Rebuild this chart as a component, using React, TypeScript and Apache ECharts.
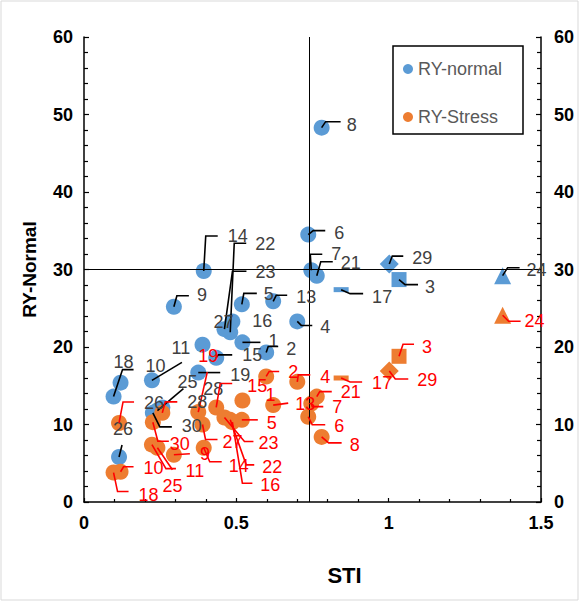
import React, { useEffect, useRef } from 'react';
import * as echarts from 'echarts';

// Genotypes (shared STI per genotype)
const genotypes = ['1','2','3','4','5','6','7','8','9','10','11','13','14','15','16','17','18','19','21','22','23','24','25','26','27','28','29','30'];
const sti = [0.520,0.598,1.034,0.700,0.518,0.736,0.746,0.780,0.295,0.120,0.223,0.621,0.393,0.434,0.487,0.844,0.097,0.375,0.764,0.480,0.461,1.374,0.241,0.115,0.389,0.257,1.002,0.226];
const ryNormal = [20.6,19.3,28.7,23.3,25.5,34.5,29.9,48.3,25.2,15.4,15.7,25.9,29.8,18.6,23.3,27.4,13.6,16.7,29.2,21.9,22.3,29.2,11.8,5.8,20.3,12.2,30.7,11.5];
const ryStress = [13.1,16.2,18.8,15.5,10.6,11.0,12.7,8.4,6.1,3.9,7.4,12.5,7.0,12.2,10.3,16.0,3.8,11.6,13.6,10.6,10.9,24.1,7.0,10.2,10.0,11.5,16.9,10.3];

const seriesNames = ['RY-normal', 'RY-Stress'];
const meanSTI = 0.743;
const refRY = 30;

// marker shapes per genotype (style)
const shapeOf: Record<string, { symbol: string; size: any }> = {
  '3': { symbol: 'rect', size: 15 },
  '29': { symbol: 'diamond', size: 19 },
  '24': { symbol: 'triangle', size: 17 },
  '17': { symbol: 'rect', size: [15, 5] },
};

// label placement (pixel offsets from marker) and leader elbows (style)
type Lab = { t: [number, number]; l?: number[][]; c?: string };
const labNormal: Record<string, Lab> = {
  '1': { t: [31, -1], l: [[18, 0]] },
  '2': { t: [25, -3], l: [[2, -6], [12, -6]] },
  '3': { t: [31, 7], l: [[6, 5], [19, 5]] },
  '4': { t: [28, 6], l: [[4, 4], [15, 4]] },
  '5': { t: [27, -10], l: [[2, -11], [15, -11]] },
  '6': { t: [31, -2], l: [[5, -4], [17, -4]] },
  '7': { t: [25, -16], l: [[-1, -16], [11, -16]] },
  '8': { t: [30, -3], l: [[4, -6], [19, -6]] },
  '9': { t: [28, -12], l: [[3, -11], [15, -11]] },
  '10': { t: [35, -17] },
  '11': { t: [29, -32], l: [[30, -18]] },
  '13': { t: [33, -4], l: [[3, -6], [14, -6]] },
  '14': { t: [34, -35], l: [[2, -35], [14, -35]] },
  '15': { t: [36, -3], l: [[2, -3], [16, -3]] },
  '16': { t: [30, 0] },
  '17': { t: [41, 7], l: [[9, 4], [22, 4]] },
  '18': { t: [10, -35], l: [[9, -27], [20, -27]] },
  '19': { t: [42, 2], l: [[2, 0], [22, 0]] },
  '21': { t: [34, -13], l: [[4, -14], [16, -14]] },
  '22': { t: [35, -88], l: [[4, -89], [16, -89]] },
  '23': { t: [41, -57], l: [[8, -58], [22, -58]] },
  '24': { t: [34, -6], l: [[5, -8], [17, -8]] },
  '25': { t: [30, -29], l: [[26, -22]] },
  '26': { t: [4, -28], l: [[3, -12]] },
  '27': { t: [21, -23] },
  '28': { t: [51, -18] },
  '29': { t: [33, -6], l: [[3, -8], [14, -8]] },
  '30': { t: [39, 13], l: [[7, 14], [19, 14]] },
};
const labStress: Record<string, Lab> = {
  '1': { t: [28, -5] },
  '2': { t: [27, -4], l: [[3, -5], [13, -5]] },
  '3': { t: [28, -9], l: [[4, -12], [15, -12]] },
  '4': { t: [28, -5], l: [[1, -7], [13, -7]] },
  '5': { t: [30, 3], l: [[16, 0]] },
  '6': { t: [31, 9], l: [[4, 8], [17, 8]] },
  '7': { t: [26, 3], l: [[1, 3], [12, 3]] },
  '8': { t: [33, 8], l: [[7, 6], [20, 6]] },
  '9': { t: [31, -1], l: [[16, -1]] },
  '10': { t: [33, -4], l: [[3, -5], [13, -5]] },
  '11': { t: [43, 26], l: [[14, 24], [24, 24]] },
  '13': { t: [32, -1], l: [[15, -2]] },
  '14': { t: [35, 18], l: [[6, 14], [18, 14]] },
  '15': { t: [41, -21], l: [[4, -24], [16, -24]] },
  '16': { t: [38, 63], l: [[10, 61], [20, 61]] },
  '17': { t: [41, 5], l: [[9, 4], [21, 4]] },
  '18': { t: [35, 22], l: [[4, 19], [15, 19]] },
  '19': { t: [10, -56], l: [[9, -40]] },
  '21': { t: [34, -5], l: [[3, -5], [15, -5]] },
  '22': { t: [42, 47], l: [[16, 45], [24, 45]] },
  '23': { t: [44, 25], l: [[20, 24], [29, 24]] },
  '24': { t: [32, 6], l: [[6, 6], [18, 6]] },
  '25': { t: [15, 38], l: [[15, 22]] },
  '26': { t: [35, -20], l: [[4, -21], [15, -21]], c: '#404040' },
  '27': { t: [30, 17], l: [[3, 15], [15, 15]] },
  '28': { t: [35, -11], l: [[3, -11], [15, -11]], c: '#404040' },
  '29': { t: [38, 9], l: [[6, 8], [19, 8]] },
  '30': { t: [27, 22], l: [[5, 19], [16, 19]] },
};

const BLUE = '#5B9BD5';
const ORANGE = '#ED7D31';
const FONT = '"Liberation Sans", Arial, sans-serif';

function scatterData(ry: number[]) {
  return genotypes.map((g, i) => {
    const s = shapeOf[g];
    return {
      name: g,
      value: [sti[i], ry[i]],
      symbol: s ? s.symbol : 'circle',
      symbolSize: s ? s.size : 16,
    };
  });
}

function labelSeries(ry: number[], labs: Record<string, Lab>, textColor: string, lineColor: string) {
  return {
    type: 'custom',
    coordinateSystem: 'cartesian2d',
    silent: true,
    clip: false,
    z: 10,
    data: genotypes.map((g, i) => [sti[i], ry[i]]),
    encode: { x: 0, y: 1 },
    renderItem: (params: any, api: any) => {
      const i = params.dataIndex;
      const g = genotypes[i];
      const lab = labs[g];
      const p = api.coord([api.value(0), api.value(1)]);
      const children: any[] = [];
      if (!lab) return { type: 'group', children };
      if (lab.l && lab.l.length) {
        const pts = [[p[0], p[1]]].concat(lab.l.map((q) => [p[0] + q[0], p[1] + q[1]]));
        children.push({
          type: 'polyline',
          shape: { points: pts },
          style: { stroke: lineColor, lineWidth: 1.6, fill: null },
        });
      }
      children.push({
        type: 'text',
        x: p[0] + lab.t[0],
        y: p[1] + lab.t[1],
        style: {
          text: g,
          fill: lab.c || textColor,
          fontSize: 18,
          fontFamily: FONT,
          align: 'center',
          verticalAlign: 'middle',
        },
      });
      return { type: 'group', children };
    },
  };
}

export default function App() {
  const ref = useRef<HTMLDivElement>(null);
  useEffect(() => {
    const chart = echarts.init(ref.current!, null, { renderer: 'svg' });
    const axisLabel = { fontSize: 18, fontWeight: 'bold', color: '#000', fontFamily: FONT };
    const yCommon = {
      type: 'value',
      min: 0,
      max: 60,
      interval: 10,
      splitLine: { show: false },
      axisLine: { show: true, onZero: false, lineStyle: { color: '#000', width: 1.5 } },
      axisTick: { show: true, inside: true, length: 5, lineStyle: { color: '#000', width: 1.2 } },
      minorTick: { show: true, splitNumber: 5, length: 4, lineStyle: { color: '#000', width: 1.2 } },
    };
    chart.setOption({
      animation: false,
      backgroundColor: '#fff',
      grid: { left: 84, right: 41, top: 37, bottom: 102, containLabel: false },
      legend: {
        data: seriesNames.map((n) => ({ name: n, icon: 'circle' })),
        orient: 'vertical',
        left: 403,
        top: 59,
        padding: 0,
        itemWidth: 10,
        itemHeight: 10,
        itemGap: 28,
        textStyle: { fontSize: 18, color: '#595959', fontFamily: FONT, lineHeight: 20 },
        selectedMode: false,
      },
      graphic: [
        { type: 'rect', shape: { x: 393, y: 46, width: 130, height: 88 }, style: { fill: null, stroke: '#000', lineWidth: 1.5 }, z: 5 },
        { type: 'rect', shape: { x: 1, y: 1, width: 577, height: 599 }, style: { fill: null, stroke: '#D9D9D9', lineWidth: 1 }, z: 0 },
      ],
      xAxis: {
        type: 'value',
        min: 0,
        max: 1.5,
        interval: 0.5,
        name: 'STI',
        nameLocation: 'middle',
        nameGap: 62,
        nameTextStyle: { fontSize: 22, fontWeight: 'bold', color: '#000', fontFamily: FONT, padding: [0, 0, 0, 64] },
        splitLine: { show: false },
        axisLine: { show: true, onZero: false, lineStyle: { color: '#000', width: 1.5 } },
        axisTick: { show: true, inside: true, length: 4, lineStyle: { color: '#000', width: 1.2 } },
        minorTick: { show: true, splitNumber: 5, length: 3, lineStyle: { color: '#000', width: 1.2 } },
        axisLabel: { ...axisLabel, margin: 12 },
      },
      yAxis: [
        {
          ...yCommon,
          position: 'left',
          name: 'RY-Normal',
          nameLocation: 'middle',
          nameGap: 45,
          nameTextStyle: { fontSize: 19, fontWeight: 'bold', color: '#000', fontFamily: FONT },
          axisLabel: { ...axisLabel, margin: 11 },
        },
        {
          ...yCommon,
          position: 'right',
          axisLabel: { ...axisLabel, margin: 13 },
        },
      ],
      series: [
        {
          name: seriesNames[0],
          type: 'scatter',
          itemStyle: { color: BLUE, opacity: 1 },
          data: scatterData(ryNormal),
          z: 3,
          markLine: {
            silent: true,
            symbol: ['none', 'none'],
            label: { show: false },
            lineStyle: { color: '#000', width: 1, type: 'solid' },
            data: [{ xAxis: meanSTI }, { yAxis: refRY }],
          },
        },
        {
          name: seriesNames[1],
          type: 'scatter',
          itemStyle: { color: ORANGE, opacity: 1 },
          data: scatterData(ryStress),
          z: 4,
        },
        labelSeries(ryNormal, labNormal, '#404040', '#000'),
        labelSeries(ryStress, labStress, '#FF0000', '#FF0000'),
      ],
    });
    return () => chart.dispose();
  }, []);
  return (
    <div
      ref={ref}
      style={{ position: 'absolute', left: 0, top: 0, width: 582, height: 604, background: '#fff' }}
    />
  );
}
